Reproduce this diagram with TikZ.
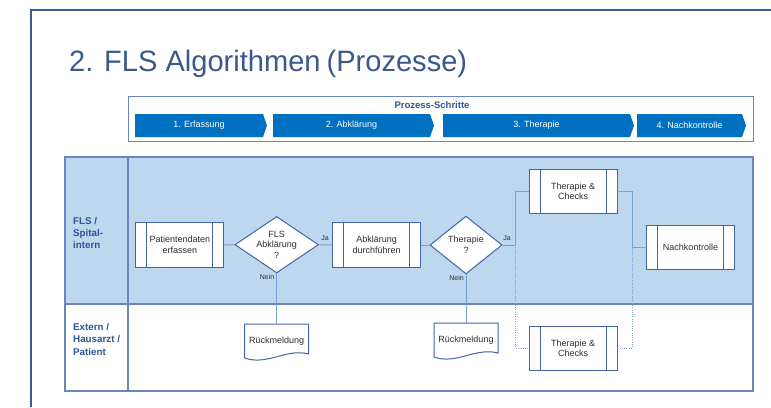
\documentclass[tikz,border=0pt]{standalone}
\usepackage{fontspec}
\setmainfont{Liberation Sans}
\newfontfamily\titlefont[FakeStretch=0.985]{Liberation Sans}
\usetikzlibrary{shapes.geometric,calc}
\definecolor{slideblue}{RGB}{59,89,152}
\definecolor{titleblue}{RGB}{59,89,140}
\definecolor{chevblue}{RGB}{0,112,192}
\definecolor{lanefill}{RGB}{189,215,238}
\definecolor{tableline}{RGB}{105,135,188}
\definecolor{boxline}{RGB}{68,100,165}
\definecolor{conline}{RGB}{120,160,215}
\definecolor{labelblue}{RGB}{47,85,151}
\definecolor{textgray}{RGB}{45,45,45}
\begin{document}
\begin{tikzpicture}[x=1pt,y=-1pt,
  procbox/.style={draw=boxline, line width=1pt, fill=white, minimum width=88pt, minimum height=44.5pt,
    inner sep=0pt, outer sep=0pt, align=center, font=\fontsize{9}{10.7}\selectfont, text=textgray,
    path picture={\draw[boxline,line width=0.9pt]
      ([xshift=11pt]path picture bounding box.north west) -- ([xshift=11pt]path picture bounding box.south west)
      ([xshift=-11pt]path picture bounding box.north east) -- ([xshift=-11pt]path picture bounding box.south east);}},
  decision/.style={diamond, draw=boxline, line width=1pt, fill=white, inner sep=0pt, outer sep=0pt},
  dtext/.style={align=center, font=\fontsize{9}{10.7}\selectfont, text=textgray, inner sep=0pt},
  docnode/.style={minimum width=64pt, minimum height=34pt, inner sep=0pt, outer sep=0pt,
    font=\fontsize{9}{10.7}\selectfont, text=textgray},
  docline/.style={draw=boxline, line width=1pt},
  small/.style={font=\fontsize{7}{8}\selectfont, text=textgray, inner sep=0pt},
  chevtext/.style={text=white, font=\fontsize{9}{10}\selectfont, inner sep=0pt},
  chev/.style={fill=chevblue},
  lanelabel/.style={align=left, font=\bfseries\fontsize{9.8}{12.3}\selectfont, text=labelblue, inner sep=0pt},
  conn/.style={draw=conline, line width=1pt},
  dotconn/.style={draw=conline, line width=1pt, dash pattern=on 1pt off 1.3pt}
]
\useasboundingbox (0,0) rectangle (771,407);
% slide frame
\draw[slideblue, line width=2pt] (31,407) -- (31,9.5) -- (771,9.5);
% title
\node[anchor=base west, font=\titlefont\fontsize{29.5}{35}\selectfont, text=titleblue, inner sep=0pt] (title) at (69,71) {2. FLS Algorithmen\hspace{-2pt} (Prozesse)};
% process steps
\draw[tableline, line width=1pt] (128,96) rectangle (753,141);
\node[font=\bfseries\fontsize{9.5}{11}\selectfont, text=labelblue, inner sep=0pt] (steps) at (432,105) {Prozess-Schritte};
\fill[chev] (135,114) -- (263,114) -- (267,125.5) -- (263,137) -- (135,137) -- cycle;
\node[chevtext] (s1) at (199,125.5) {1. Erfassung};
\fill[chev] (273,114) -- (430,114) -- (434,125.5) -- (430,137) -- (273,137) -- cycle;
\node[chevtext] (s2) at (351.5,125.5) {2. Abklärung};
\fill[chev] (443,114) -- (630,114) -- (634,125.5) -- (630,137) -- (443,137) -- cycle;
\node[chevtext] (s3) at (536.5,125.5) {3. Therapie};
\fill[chev] (637,114) -- (742,114) -- (746,125.5) -- (742,137) -- (637,137) -- cycle;
\node[chevtext] (s4) at (689.5,125.5) {4. Nachkontrolle};
% swimlanes
\fill[lanefill] (65,157) rectangle (753,304);
\draw[tableline, line width=1.2pt] (65,157) rectangle (753,391);
\draw[tableline, line width=1.2pt] (65,304) -- (753,304);
\draw[tableline, line width=1.2pt] (128,157) -- (128,391);
\node[lanelabel, anchor=west] (lane1) at (73,233) {FLS /\\Spital-\\intern};
\node[lanelabel, anchor=west] (lane2) at (73,339.3) {Extern /\\Hausarzt /\\Patient};
% nodes
\node[procbox] (p1) at (179.8,245) {Patientendaten\\erfassen};
\node[decision, minimum width=83.3pt, minimum height=56pt,
  label={[dtext]center:{FLS\\Abklärung\\?}}] (d1) at (276.7,244.7) {};
\node[procbox] (a1) at (376.7,245) {Abklärung\\durchführen};
\node[decision, minimum width=71.7pt, minimum height=57.5pt,
  label={[dtext]center:{Therapie\\?}}] (d2) at (466,245) {};
\node[procbox] (tc1) at (573.2,191.3) {Therapie \&\\Checks};
\node[procbox] (nk) at (690.5,247.7) {Nachkontrolle};
\node[procbox] (tc2) at (573.2,348.3) {Therapie \&\\Checks};
\node[docnode] (r1) at (276.7,341) {Rückmeldung};
\node[docnode] (r2) at (466,340) {Rückmeldung};
\draw[docline] ($(r1.south west)$) -- (r1.north west) -- (r1.north east) -- ($(r1.south east)+(0,-4)$)
  .. controls ($(r1.south east)+(-22.4,-10)$) and ($(r1.south west)+(22.4,8)$) .. (r1.south west);
\draw[docline] ($(r2.south west)$) -- (r2.north west) -- (r2.north east) -- ($(r2.south east)+(0,-4)$)
  .. controls ($(r2.south east)+(-22.4,-10)$) and ($(r2.south west)+(22.4,8)$) .. (r2.south west);
% junctions
\coordinate (j1) at (515.7,245);
\coordinate (j2) at (632.3,247.7);
% connectors
\draw[conn] (p1.east) -- (d1.west);
\draw[conn] (d1.east) -- (a1.west);
\draw[conn] (d1.south) -- (r1.north);
\draw[conn] (a1.east) -- (d2.west);
\draw[conn] (d2.east) -- (j1) |- (tc1.west);
\draw[conn] (d2.south) -- (r2.north);
\draw[conn] (tc1.east) -| (j2) -- (nk.west);
\draw[dotconn] (j1) |- (tc2.west);
\draw[dotconn] (tc2.east) -| (j2);
% labels
\node[small] (ja1) at (325,238) {Ja};
\node[small] (nein1) at (267,277) {Nein};
\node[small] (ja2) at (507,238) {Ja};
\node[small] (nein2) at (456.5,278) {Nein};
\end{tikzpicture}
\end{document}
